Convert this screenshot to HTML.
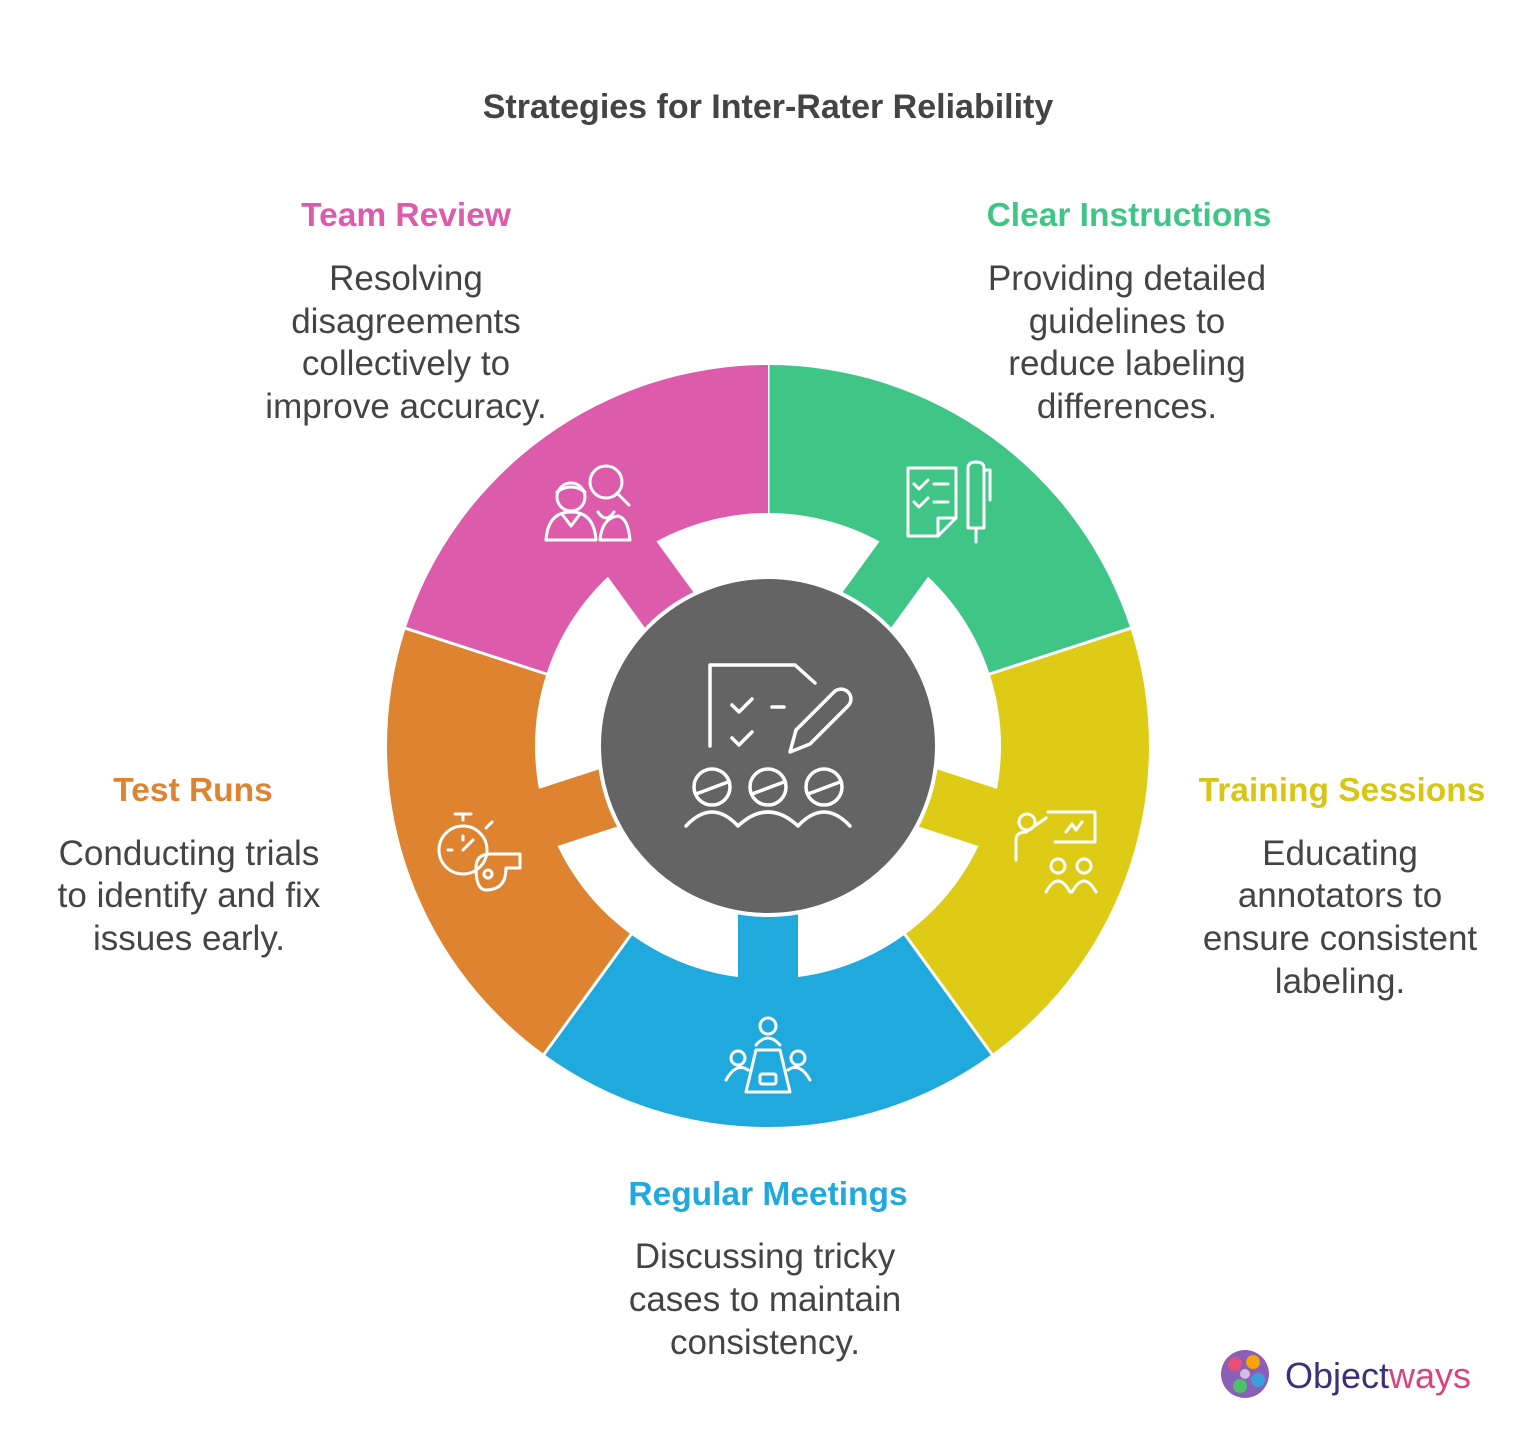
<!DOCTYPE html>
<html><head><meta charset="utf-8">
<style>
html,body{margin:0;padding:0;background:#fff;}
body{width:1536px;height:1451px;position:relative;overflow:hidden;font-family:"Liberation Sans",Arial,sans-serif;}
svg{position:absolute;left:0;top:0;}
</style></head>
<body>
<svg id="s" width="1536" height="1451" viewBox="0 0 1536 1451" xmlns="http://www.w3.org/2000/svg">
<g id="ring"></g>
<circle cx="768" cy="746" r="169" fill="#646464" stroke="#fff" stroke-width="4"/>
<g fill="none" stroke="#fff" stroke-width="3.5" stroke-linecap="round" stroke-linejoin="round">
<path d="M710 746 V665 H795 L815 683"/>
<path d="M732 705 l7 7 l13 -13"/><path d="M772 707 h12"/>
<path d="M732 738 l7 7 l13 -13"/>
<path d="M790 752 l6 -22 l38 -38 a8 8 0 0 1 14 14 l-38 38 z"/>
<circle cx="712" cy="787" r="18"/><path d="M696 794 l32 -12"/>
<circle cx="768" cy="787" r="18"/><path d="M752 794 l32 -12"/>
<circle cx="824" cy="787" r="18"/><path d="M808 794 l32 -12"/>
<path d="M686 826 q26 -28 52 0 q30 -28 60 0 q26 -28 52 0"/>
</g>
<g fill="none" stroke="#fff" stroke-width="3" stroke-linecap="round" stroke-linejoin="round">
<circle cx="571" cy="497" r="14"/><path d="M557 492 q14 -10 28 0"/>
<path d="M546 540 q2 -28 25 -28 q23 0 25 28 z"/><path d="M562 514 l9 12 l9 -12"/>
<circle cx="606" cy="482" r="16"/><path d="M617 493 l12 12"/>
<path d="M598 512 q8 12 16 0"/><path d="M600 540 q2 -22 18 -24 q10 2 12 24 z"/>
</g>
<g fill="none" stroke="#fff" stroke-width="3" stroke-linecap="round" stroke-linejoin="round">
<path d="M908 536 V468 H956 V518 L938 536 Z"/><path d="M938 536 V518 H956"/>
<path d="M914 484 l5 5 l9 -9"/><path d="M934 484 h14"/>
<path d="M914 502 l5 5 l9 -9"/><path d="M934 502 h14"/>
<path d="M968 528 V468 q0 -6 8 -6 q8 0 8 6 V528 Z"/><path d="M976 528 v14"/><path d="M984 470 h6 v30"/>
</g>
<g fill="none" stroke="#fff" stroke-width="3" stroke-linecap="round" stroke-linejoin="round">
<circle cx="1027" cy="822" r="8"/><path d="M1016 860 v-20 q0 -8 10 -8 l20 -14"/>
<path d="M1048 812 H1095 V842 H1055"/><path d="M1066 832 l6 -8 l4 6 l6 -8"/>
<circle cx="1058" cy="866" r="7"/><circle cx="1084" cy="866" r="7"/>
<path d="M1046 892 q12 -22 24 0"/><path d="M1072 892 q12 -22 24 0"/>
</g>
<g fill="none" stroke="#fff" stroke-width="3" stroke-linecap="round" stroke-linejoin="round">
<circle cx="768" cy="1026" r="8"/><path d="M756 1045 q12 -14 24 0"/>
<path d="M756 1050 H780 L790 1092 H746 Z"/><rect x="760" y="1074" width="16" height="10" rx="2"/>
<circle cx="738" cy="1058" r="7"/><path d="M726 1080 q10 -18 22 -10"/>
<circle cx="798" cy="1058" r="7"/><path d="M810 1080 q-10 -18 -22 -10"/>
</g>
<g fill="none" stroke="#fff" stroke-width="3" stroke-linecap="round" stroke-linejoin="round">
<circle cx="463" cy="850" r="24"/><path d="M463 820 v-6 M455 814 h16"/><path d="M486 828 l6 -6"/>
<path d="M463 850 l10 -10"/><path d="M448 850 h4 M463 836 v4"/>
<path d="M476 868 q0 -14 14 -14 h30 v14 h-14 q0 22 -20 22 q-10 0 -10 -22 z"/><circle cx="488" cy="874" r="4"/>
</g>
<g id="txt" font-family="Liberation Sans, Arial, sans-serif" text-anchor="middle">
<text x="768" y="118" font-size="34" font-weight="bold" fill="#444">Strategies for Inter-Rater Reliability</text>
<text x="406" y="226" font-size="33.5" font-weight="bold" fill="#DC5BAA">Team Review</text>
<g font-size="35" fill="#444">
<text x="406" y="290">Resolving</text><text x="406" y="333">disagreements</text><text x="406" y="375">collectively to</text><text x="406" y="418">improve accuracy.</text>
</g>
<text x="1129" y="226" font-size="33.5" font-weight="bold" fill="#3FC687">Clear Instructions</text>
<g font-size="35" fill="#444">
<text x="1127" y="290">Providing detailed</text><text x="1127" y="333">guidelines to</text><text x="1127" y="375">reduce labeling</text><text x="1127" y="418">differences.</text>
</g>
<text x="193" y="801" font-size="33.5" font-weight="bold" fill="#DE8330">Test Runs</text>
<g font-size="35" fill="#444">
<text x="189" y="865">Conducting trials</text><text x="189" y="907">to identify and fix</text><text x="189" y="950">issues early.</text>
</g>
<text x="1342" y="801" font-size="33.5" font-weight="bold" fill="#D8C614">Training Sessions</text>
<g font-size="35" fill="#444">
<text x="1340" y="865">Educating</text><text x="1340" y="907">annotators to</text><text x="1340" y="950">ensure consistent</text><text x="1340" y="993">labeling.</text>
</g>
<text x="768" y="1205" font-size="33.5" font-weight="bold" fill="#1FA9DC">Regular Meetings</text>
<g font-size="35" fill="#444">
<text x="765" y="1268">Discussing tricky</text><text x="765" y="1311">cases to maintain</text><text x="765" y="1354">consistency.</text>
</g>
<text x="1378" y="1388" font-size="36" fill="#3d2f7a">Object<tspan fill="#d9447e">ways</tspan></text>
</g>
<g>
<circle cx="1245" cy="1374" r="24" fill="#8a5fb5"/>
<circle cx="1235" cy="1364" r="7" fill="#e94e77"/><circle cx="1253" cy="1362" r="7" fill="#f7a400"/>
<circle cx="1258" cy="1380" r="7" fill="#3aa0dc"/><circle cx="1240" cy="1386" r="7" fill="#4cbf6b"/>
<circle cx="1245" cy="1374" r="5" fill="#fff" opacity="0.6"/>
</g>
</svg>
<script>
(function(){
var cx=768,cy=746,R=381,r=233,g=document.getElementById('ring'),ns='http://www.w3.org/2000/svg';
var cols=['#3FC687','#DDCB16','#1FA9DC','#DE8330','#DC5BAA'];
function p(a,rad){a=a*Math.PI/180;return (cx+rad*Math.cos(a)).toFixed(2)+' '+(cy+rad*Math.sin(a)).toFixed(2);}
for(var i=0;i<5;i++){
 var a1=-90+72*i,a2=a1+72,m=a1+36;
 var grp=document.createElementNS(ns,'g');
 var path=document.createElementNS(ns,'path');
 path.setAttribute('d','M'+p(a1,R)+' A'+R+' '+R+' 0 0 1 '+p(a2,R)+' L'+p(a2,r)+' A'+r+' '+r+' 0 0 0 '+p(a1,r)+' Z');
 path.setAttribute('fill',cols[i]);
 grp.appendChild(path);
 var rect=document.createElementNS(ns,'rect');
 rect.setAttribute('x',160);rect.setAttribute('y',-30);rect.setAttribute('width',80);rect.setAttribute('height',60);
 rect.setAttribute('fill',cols[i]);
 rect.setAttribute('transform','translate('+cx+' '+cy+') rotate('+m+')');
 grp.appendChild(rect);
 g.appendChild(grp);
 var ln=document.createElementNS(ns,'line');
 var q1=p(a1,r-2).split(' '),q2=p(a1,R+2).split(' ');
 ln.setAttribute('x1',q1[0]);ln.setAttribute('y1',q1[1]);ln.setAttribute('x2',q2[0]);ln.setAttribute('y2',q2[1]);
 ln.setAttribute('stroke','#fff');ln.setAttribute('stroke-width','3');
 g.appendChild(ln);
}
})();
</script>
</body></html>
